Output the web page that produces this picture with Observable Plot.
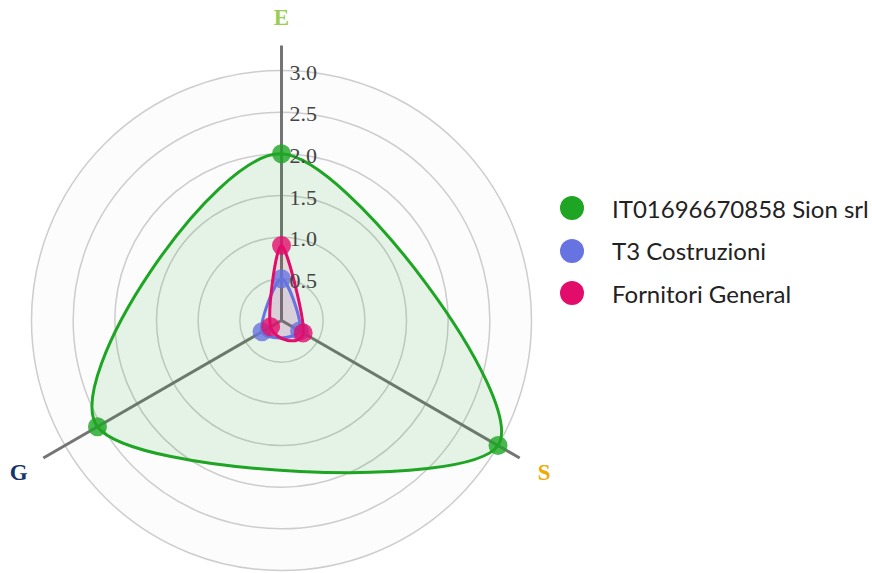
<!DOCTYPE html>
<html><head><meta charset="utf-8">
<script src="https://cdn.jsdelivr.net/npm/d3@7"></script>
<script src="https://cdn.jsdelivr.net/npm/@observablehq/plot@0.6"></script>
<style>
body{margin:0;background:#fff;}
#wrap{position:relative;width:872px;height:573px;overflow:hidden;}
#legend{position:absolute;left:560px;top:187px;font-family:Lato,sans-serif;font-size:24px;color:#222;}
.item{display:flex;align-items:center;height:42.5px;white-space:nowrap;}
.sw{width:24px;height:24px;border-radius:50%;margin-right:28px;flex:none;}
</style></head><body><div id="wrap"><div id="chart"></div><div id="legend"></div></div>
<script>
// ---- data ----
const axisNames = ["E", "S", "G"];
const axisAngles = [90, -30, 210];
const axisColors = ["#9acd50", "#f2a900", "#17356b"];
const seriesNames = ["IT01696670858 Sion srl", "T3 Costruzioni", "Fornitori General"];
const seriesColors = ["#1ea524", "#6673e0", "#e20d6b"];
const sionValues = [2.0, 3.0, 2.55];
const t3Values = [0.5, 0.25, 0.27];
const fornitoriValues = [0.9, 0.3, 0.15];
const tickValues = [0.5, 1.0, 1.5, 2.0, 2.5, 3.0];
const tickLabels = ["0.5", "1.0", "1.5", "2.0", "2.5", "3.0"];

// ---- layout ----
const W = 872, H = 573, cx = 281, cy = 320, maxV = 3, maxR = 250;
const k = maxR / maxV;
const axisExtent = 3.3, labelR = 3.64;
const rad = a => a * Math.PI / 180;

const allValues = [sionValues, t3Values, fornitoriValues];
const points = [];
seriesNames.forEach((name, si) => {
  axisNames.forEach((ax, ai) => {
    const v = allValues[si][ai];
    points.push({name, axis: ax, value: v, x: Math.cos(rad(axisAngles[ai])) * v, y: Math.sin(rad(axisAngles[ai])) * v});
  });
});
const axesData = axisNames.map((n, i) => ({n, a: axisAngles[i], c: axisColors[i]}));

const marks = [
  Plot.dot([maxV], {x: 0, y: 0, r: d => d, fill: "#fcfcfc", stroke: "none"}),
  Plot.dot(tickValues, {x: 0, y: 0, r: d => d, fill: "none", stroke: "#cdcdcd", strokeWidth: 1.5}),
  Plot.link(axesData, {x1: 0, y1: 0, x2: d => Math.cos(rad(d.a)) * axisExtent, y2: d => Math.sin(rad(d.a)) * axisExtent, stroke: "#747474", strokeWidth: 3})
];
seriesNames.forEach((name, si) => {
  const pts = points.filter(p => p.name === name);
  marks.push(Plot.line(pts, {x: "x", y: "y", curve: "cardinal-closed", fill: seriesColors[si], fillOpacity: 0.1, stroke: "none"}));
});
seriesNames.forEach((name, si) => {
  const pts = points.filter(p => p.name === name);
  marks.push(Plot.line(pts, {x: "x", y: "y", curve: "cardinal-closed", fill: "none", stroke: seriesColors[si], strokeWidth: 3}));
  marks.push(Plot.dot(pts, {x: "x", y: "y", r: 9.5, fill: seriesColors[si], fillOpacity: 0.8, stroke: "none"}));
});
marks.push(Plot.text(tickValues, {x: 0, y: d => d, text: (d, i) => tickLabels[i], textAnchor: "start", dx: 8, dy: 2, fontSize: 22, fontFamily: "Liberation Serif", fill: "#444"}));
marks.push(Plot.text(axesData, {x: d => Math.cos(rad(d.a)) * labelR, y: d => Math.sin(rad(d.a)) * labelR, text: "n", fill: d => d.c, fontSize: 23, fontWeight: "bold", fontFamily: "Liberation Serif"}));

const chart = Plot.plot({
  width: W, height: H, margin: 0,
  x: {domain: [-cx / k, (W - cx) / k], axis: null},
  y: {domain: [-(H - cy) / k, cy / k], axis: null},
  r: {type: "linear", domain: [0, maxV], range: [0, maxR]},
  style: {background: "transparent", overflow: "visible"},
  marks
});
document.getElementById("chart").appendChild(chart);

const legend = document.getElementById("legend");
seriesNames.forEach((name, i) => {
  const it = document.createElement("div");
  it.className = "item";
  const sw = document.createElement("span");
  sw.className = "sw";
  sw.style.background = seriesColors[i];
  const t = document.createElement("span");
  t.textContent = name;
  it.appendChild(sw); it.appendChild(t);
  legend.appendChild(it);
});
</script>
</body></html>
